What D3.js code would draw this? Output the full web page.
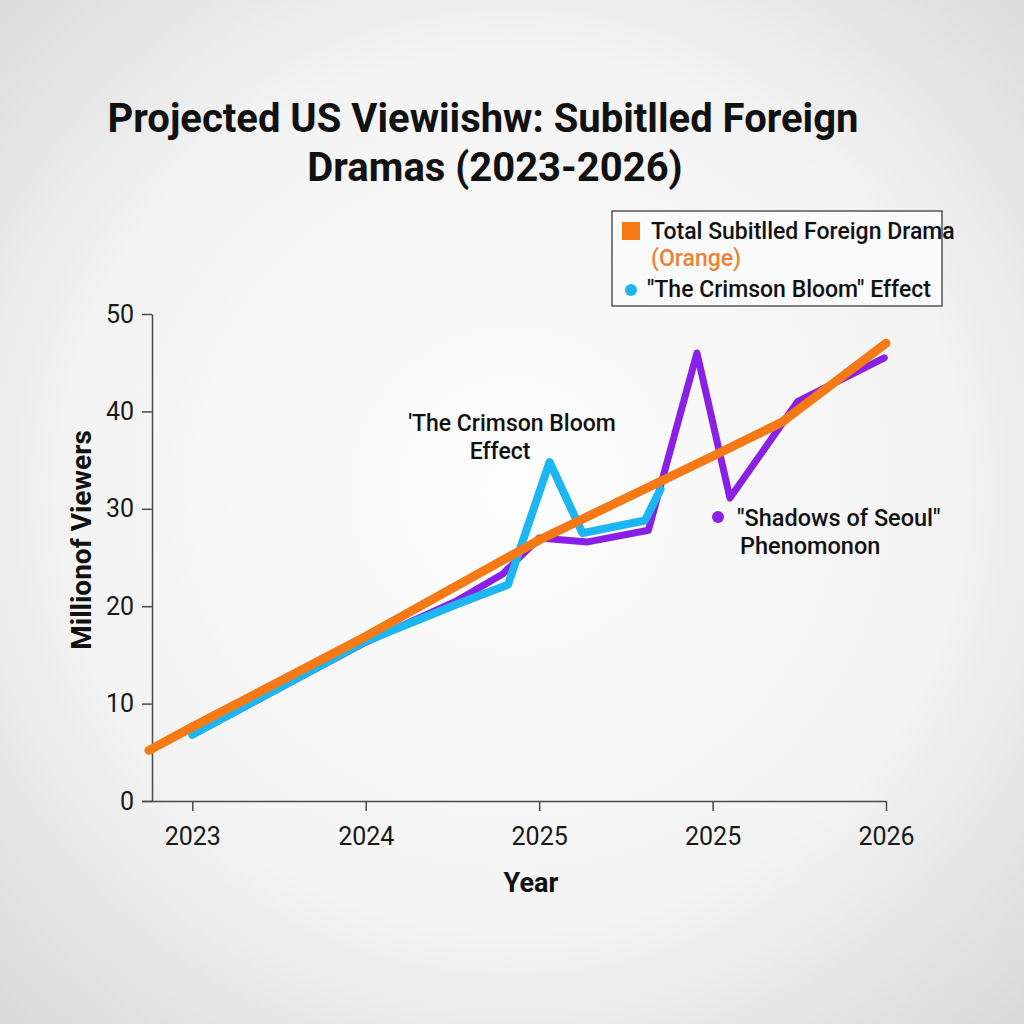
<!DOCTYPE html>
<html>
<head>
<meta charset="utf-8">
<script src="https://cdn.jsdelivr.net/npm/d3@7"></script>
<style>
  html, body { margin: 0; padding: 0; }
  body { width: 1024px; height: 1024px; overflow: hidden; font-family: Roboto, "Noto Sans", sans-serif; }
  .axis text { font-family: Roboto, sans-serif; fill: #1a1a1a; }
  .axis path, .axis line { stroke: #4a4a4a; stroke-width: 1.5; }
</style>
</head>
<body>
<div id="chart"></div>
<script>
/* ===== Data ===== */
const yearLabels = ["2023", "2024", "2025", "2025", "2026"];
const yTicks = [0, 10, 20, 30, 40, 50];

// Total subtitled foreign drama (orange trend)
const totalX = [-0.25, 0, 1, 2, 3, 3.4, 4];
const totalViewers = [5.2, 7.6, 16.9, 26.8, 35.4, 38.9, 47.0];

// "The Crimson Bloom" effect (blue)
const crimsonX = [0, 1.0, 1.54, 1.82, 2.06, 2.25, 2.61, 2.70];
const crimsonViewers = [6.8, 16.4, 20.3, 22.2, 34.8, 27.5, 28.8, 32.0];

// "Shadows of Seoul" phenomenon (purple)
const seoulX = [0, 1.0, 1.53, 1.79, 2.0, 2.28, 2.63, 2.91, 3.10, 3.49, 3.99];
const seoulViewers = [6.8, 16.3, 20.6, 23.3, 27.0, 26.6, 27.8, 46.0, 31.1, 41.0, 45.5];

/* ===== Constants ===== */
const width = 1024, height = 1024;
const plot = {left: 152, right: 886, top: 314, bottom: 801, axisStart: 142};
const colors = {orange: "#f57a16", blue: "#1cb6f2", purple: "#8a1fe6", orangeText: "#ec8236"};

const svg = d3.select("#chart").append("svg")
    .attr("width", width)
    .attr("height", height);

// soft grey vignette background
const grad = svg.append("defs").append("radialGradient")
    .attr("id", "bg").attr("cx", "50%").attr("cy", "48%").attr("r", "72%");
grad.append("stop").attr("offset", "0%").attr("stop-color", "#fdfdfd");
grad.append("stop").attr("offset", "60%").attr("stop-color", "#f3f3f3");
grad.append("stop").attr("offset", "100%").attr("stop-color", "#d9d9d9");
svg.append("rect").attr("width", width).attr("height", height).attr("fill", "url(#bg)");

const x = d3.scaleLinear()
    .domain([-0.29, 4])
    .range([plot.axisStart, plot.right]);

const y = d3.scaleLinear()
    .domain([0, 50])
    .range([plot.bottom, plot.top]);

/* ===== Axes ===== */
svg.append("g")
    .classed("axis", true)
    .attr("transform", `translate(0,${plot.bottom})`)
    .call(d3.axisBottom(x)
        .tickValues(d3.range(yearLabels.length))
        .tickFormat(i => yearLabels[i])
        .tickSize(10)
        .tickSizeOuter(0)
        .tickPadding(16))
    .selectAll("text")
    .style("font-size", "25px");

svg.append("g")
    .classed("axis", true)
    .attr("transform", `translate(${plot.left},0)`)
    .call(d3.axisLeft(y)
        .tickValues(yTicks)
        .tickSize(10)
        .tickSizeOuter(0)
        .tickPadding(8))
    .selectAll("text")
    .style("font-size", "25px");

/* ===== Lines ===== */
const line = d3.line()
    .x(d => x(d[0]))
    .y(d => y(d[1]));

function drawLine(xs, vs, color, w) {
    svg.append("path")
        .datum(d3.zip(xs, vs))
        .attr("d", line)
        .attr("fill", "none")
        .attr("stroke", color)
        .attr("stroke-width", w)
        .attr("stroke-linejoin", "round")
        .attr("stroke-linecap", "round");
}

drawLine(seoulX, seoulViewers, colors.purple, 7);
drawLine(crimsonX, crimsonViewers, colors.blue, 8);
drawLine(totalX, totalViewers, colors.orange, 9);

/* ===== Titles ===== */
const title = svg.append("text")
    .attr("font-weight", 700)
    .attr("font-size", 40)
    .attr("fill", "#111")
    .attr("text-anchor", "middle");
title.append("tspan").attr("x", 483).attr("y", 132).text("Projected US Viewiishw: Subitlled Foreign");
title.append("tspan").attr("x", 495).attr("y", 181).text("Dramas (2023-2026)");

svg.append("text")
    .attr("transform", `translate(91,540) rotate(-90)`)
    .attr("text-anchor", "middle")
    .attr("font-weight", 700)
    .attr("font-size", 28)
    .attr("fill", "#111")
    .text("Millionof Viewers");

svg.append("text")
    .attr("x", 531).attr("y", 892)
    .attr("text-anchor", "middle")
    .attr("font-weight", 700)
    .attr("font-size", 27)
    .attr("fill", "#111")
    .text("Year");

/* ===== Annotations ===== */
const crimsonNote = svg.append("text")
    .attr("text-anchor", "middle")
    .attr("font-weight", 500)
    .attr("font-size", 23)
    .attr("fill", "#111");
crimsonNote.append("tspan").attr("x", 512).attr("y", 431).text("'The Crimson Bloom");
crimsonNote.append("tspan").attr("x", 500).attr("y", 459).text("Effect");

svg.append("circle").attr("cx", 718).attr("cy", 517).attr("r", 6).attr("fill", colors.purple);
const seoulNote = svg.append("text")
    .attr("font-weight", 500)
    .attr("font-size", 23.5)
    .attr("fill", "#111");
seoulNote.append("tspan").attr("x", 737).attr("y", 526).text("\"Shadows of Seoul\"");
seoulNote.append("tspan").attr("x", 740).attr("y", 554).text("Phenomonon");

/* ===== Legend ===== */
const legend = svg.append("g").attr("transform", "translate(612,211)");
legend.append("rect")
    .attr("width", 330).attr("height", 95)
    .attr("fill", "#fafafa")
    .attr("stroke", "#555")
    .attr("stroke-width", 1.5);
legend.append("rect")
    .attr("x", 10).attr("y", 11).attr("width", 18).attr("height", 18)
    .attr("fill", colors.orange);
legend.append("text")
    .attr("x", 39).attr("y", 28)
    .attr("font-weight", 500).attr("font-size", 23).attr("fill", "#111")
    .text("Total Subitlled Foreign Drama");
legend.append("text")
    .attr("x", 39).attr("y", 55)
    .attr("font-weight", 500).attr("font-size", 23).attr("fill", colors.orangeText)
    .text("(Orange)");
legend.append("circle")
    .attr("cx", 19).attr("cy", 79).attr("r", 6)
    .attr("fill", colors.blue);
legend.append("text")
    .attr("x", 35).attr("y", 86)
    .attr("font-weight", 500).attr("font-size", 23).attr("fill", "#111")
    .text("\"The Crimson Bloom\" Effect");
</script>
</body>
</html>
